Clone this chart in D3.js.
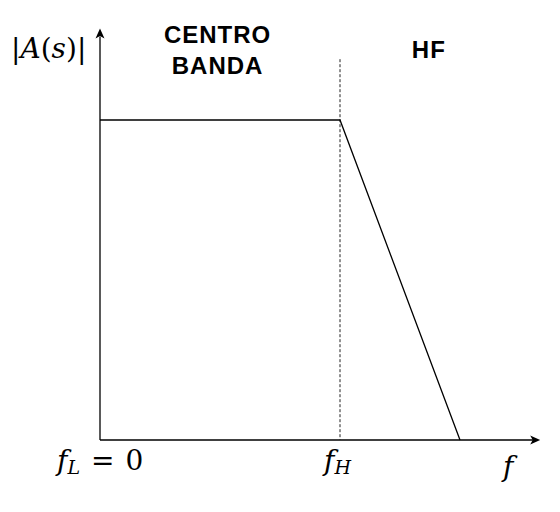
<!DOCTYPE html>
<html>
<head>
<meta charset="utf-8">
<script src="https://cdn.jsdelivr.net/npm/d3@7"></script>
<style>
  body { margin: 0; background: #fff; }
  .region { font-family: "Liberation Sans", Arial, sans-serif; font-weight: bold; font-size: 24px; letter-spacing: 1px; }
  .math { font-family: "DejaVu Serif", "Liberation Serif", serif; font-size: 28px; }
</style>
</head>
<body>
<div id="chart"></div>
<script>
// magnitude response, asymptotic sketch (normalised)
var freqs = [0, 1, 1.5];        // fL = 0, fH, end of roll-off
var gains = [1, 1, 0];
var tickFreqs = [0, 1];         // fL, fH
var regionNames = [["CENTRO", "BANDA"], ["HF"]];
var regionFreqs = [0.49, 1.37]; // centre of each label

var width = 560, height = 512;

var x = d3.scaleLinear().domain([0, 1]).range([100, 340]);
var y = d3.scaleLinear().domain([0, 1]).range([440, 120]);

var xMax = 1.83, yMax = 1.28, dashTop = 1.19;

var svg = d3.select("#chart").append("svg")
    .attr("width", width)
    .attr("height", height);

// axes
svg.append("line")
    .attr("x1", x(0)).attr("y1", y(0))
    .attr("x2", x(xMax) - 6).attr("y2", y(0))
    .attr("stroke", "#000").attr("stroke-width", 1.3);
svg.append("path")
    .attr("d", "M" + (x(xMax) + 1) + "," + y(0) + "l-10,-4.5l2.5,4.5l-2.5,4.5z")
    .attr("fill", "#000");

svg.append("line")
    .attr("x1", x(0)).attr("y1", y(0))
    .attr("x2", x(0)).attr("y2", y(yMax) + 6)
    .attr("stroke", "#000").attr("stroke-width", 1.3);
svg.append("path")
    .attr("d", "M" + x(0) + "," + (y(yMax) - 2) + "l-4.5,10l4.5,-2.5l4.5,2.5z")
    .attr("fill", "#000");

// dashed line at fH
svg.append("line")
    .attr("x1", x(tickFreqs[1])).attr("y1", y(dashTop))
    .attr("x2", x(tickFreqs[1])).attr("y2", y(0))
    .attr("stroke", "#222").attr("stroke-width", 1)
    .attr("stroke-dasharray", "3,2");

// response
var line = d3.line()
    .x(function(d, i) { return x(freqs[i]); })
    .y(function(d) { return y(d); });

svg.append("path")
    .datum(gains)
    .attr("d", line)
    .attr("fill", "none")
    .attr("stroke", "#000")
    .attr("stroke-width", 1.3);

// region labels
regionNames.forEach(function(lines, i) {
    var t = svg.append("text")
        .attr("class", "region")
        .attr("text-anchor", "middle")
        .attr("x", x(regionFreqs[i]))
        .attr("y", i == 0 ? 43 : 58);
    lines.forEach(function(s, j) {
        t.append("tspan")
            .attr("x", x(regionFreqs[i]))
            .attr("dy", j == 0 ? 0 : 31)
            .text(s);
    });
});

// y label |A(s)|
var yl = svg.append("text").attr("class", "math").attr("x", 11).attr("y", 58);
yl.append("tspan").text("|");
yl.append("tspan").attr("font-style", "italic").text("A");
yl.append("tspan").text("(");
yl.append("tspan").attr("font-style", "italic").text("s");
yl.append("tspan").text(")|");

// tick labels
var t0 = svg.append("text").attr("class", "math").attr("x", 57).attr("y", 470);
t0.append("tspan").attr("font-style", "italic").text("f");
t0.append("tspan").attr("font-style", "italic").attr("font-size", "19px").attr("dy", 4).text("L");
t0.append("tspan").attr("dy", -4).attr("dx", 11).text("=");
t0.append("tspan").attr("dx", 11).text("0");

var t1 = svg.append("text").attr("class", "math").attr("x", x(tickFreqs[1]) - 16).attr("y", 470);
t1.append("tspan").attr("font-style", "italic").text("f");
t1.append("tspan").attr("font-style", "italic").attr("font-size", "19px").attr("dy", 4).text("H");

svg.append("text").attr("class", "math")
    .attr("font-style", "italic")
    .attr("x", 503).attr("y", 476)
    .text("f");
</script>
</body>
</html>
